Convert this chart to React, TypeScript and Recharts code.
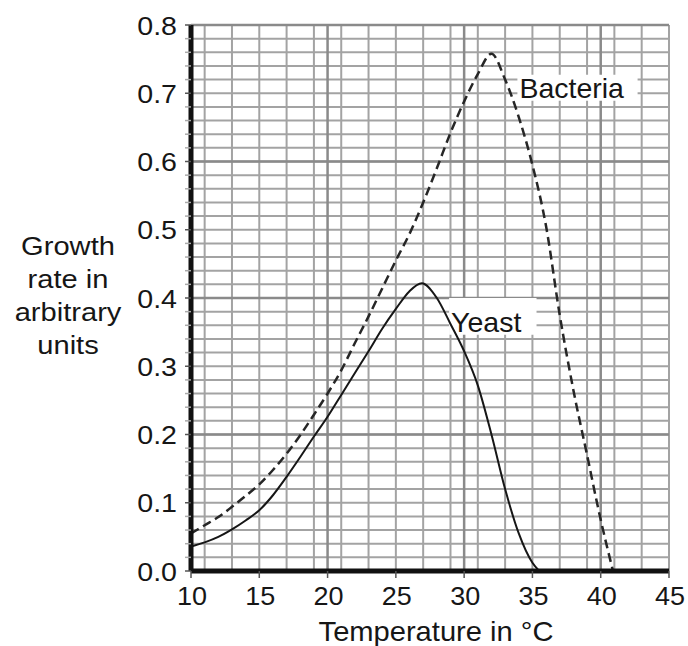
import { LineChart, Line, XAxis, YAxis, CartesianGrid, ReferenceArea, Label } from 'recharts'

// Yeast curve (solid)
const yeastTemps = [10, 11, 12, 13, 14, 15, 16, 17, 18, 19, 20, 21, 22, 23, 24, 25, 26, 26.9, 28, 29, 30, 31, 32, 33, 34, 35, 35.5]
const yeastRates = [0.036, 0.042, 0.05, 0.061, 0.074, 0.089, 0.111, 0.138, 0.167, 0.197, 0.226, 0.258, 0.29, 0.322, 0.355, 0.384, 0.41, 0.4215, 0.4, 0.362, 0.322, 0.272, 0.2, 0.12, 0.055, 0.012, 0]

// Bacteria curve (dashed)
const bacteriaTemps = [10, 11, 12, 13, 14, 15, 16, 17, 18, 19, 20, 21, 22, 23, 24, 25, 26, 27, 28, 29, 30, 31, 32, 33, 34, 35, 36, 37, 38, 39, 40, 40.9]
const bacteriaRates = [0.055, 0.067, 0.079, 0.094, 0.11, 0.127, 0.148, 0.172, 0.199, 0.229, 0.26, 0.294, 0.334, 0.373, 0.414, 0.455, 0.494, 0.54, 0.59, 0.642, 0.688, 0.728, 0.758, 0.72, 0.665, 0.595, 0.505, 0.375, 0.265, 0.17, 0.075, 0]

const xTicks = [10, 15, 20, 25, 30, 35, 40, 45]

// graph paper lines
const xMinor = Array.from({ length: 35 }, (_, i) => 11 + i)
const xMajor = [20, 30, 40]
const yMinor = Array.from({ length: 40 }, (_, i) => +((i + 1) * 0.02).toFixed(2))
const yMajor = [0.2, 0.4, 0.6, 0.8]
const yTickMarks = Array.from({ length: 41 }, (_, i) => +(i * 0.02).toFixed(2))

const yeastData = yeastTemps.map((t, i) => ({ t, v: yeastRates[i] }))
const bacteriaData = bacteriaTemps.map((t, i) => ({ t, v: bacteriaRates[i] }))

const FONT = '"Liberation Sans", Arial, sans-serif'
const INK = '#161616'

// the scan is a little stretched sideways, so text gets a small horizontal scale
function Stretched({ x, y, size, sx, anchor = 'start', children }: any) {
  return (
    <text
      transform={`translate(${x},${y}) scale(${sx},1)`}
      textAnchor={anchor}
      fontSize={size}
      fontFamily={FONT}
      fill={INK}
    >
      {children}
    </text>
  )
}

function YTick({ x, y, payload }: any) {
  const v = payload.value as number
  const major = Math.abs(v * 10 - Math.round(v * 10)) < 1e-6
  return (
    <g>
      <line x1={x - 6} x2={x} y1={y} y2={y} stroke={major ? '#555' : '#aaa'} strokeWidth={1.5} />
      {major && (
        <Stretched x={x - 14} y={y + 9.5} size={26} sx={1.1} anchor="end">
          {v.toFixed(1)}
        </Stretched>
      )}
    </g>
  )
}

function XTick({ x, y, payload }: any) {
  return (
    <g>
      <line x1={x} x2={x} y1={y} y2={y + 7} stroke="#555" strokeWidth={1.5} />
      <Stretched x={x + 1} y={y + 34} size={25} sx={1.08} anchor="middle">
        {payload.value}
      </Stretched>
    </g>
  )
}

function boxLabel(text: string) {
  return ({ viewBox }: any) => (
    <text x={viewBox.x + 2} y={viewBox.y + viewBox.height - 3} fontSize={28.5} fontFamily={FONT} fill={INK}>
      {text}
    </text>
  )
}

export default function App() {
  return (
    <div style={{ position: 'absolute', left: 0, top: 0, width: 688, height: 646, background: '#fff' }}>
      <LineChart width={688} height={646} margin={{ top: 25, right: 19, bottom: 0, left: 0 }}>
        <CartesianGrid verticalValues={xMinor} horizontalValues={yMinor} stroke="#a3a3a3" strokeWidth={2} />
        <CartesianGrid verticalValues={xMajor} horizontalValues={yMajor} stroke="#8a8a8a" strokeWidth={2.5} />
        <XAxis
          dataKey="t"
          type="number"
          domain={[10, 45]}
          ticks={xTicks}
          height={75}
          tickSize={0}
          tickMargin={0}
          tickLine={false}
          axisLine={{ stroke: '#111', strokeWidth: 5 }}
          tick={<XTick />}
          allowDataOverflow
        >
          <Label
            content={({ viewBox }: any) => (
              <Stretched x={436} y={viewBox.y + 70} size={28} sx={1.04} anchor="middle">
                Temperature in °C
              </Stretched>
            )}
          />
        </XAxis>
        <YAxis
          type="number"
          domain={[0, 0.8]}
          ticks={yTickMarks}
          width={191}
          tickSize={0}
          tickMargin={0}
          tickLine={false}
          axisLine={{ stroke: '#111', strokeWidth: 5 }}
          tick={<YTick />}
          interval={0}
          allowDataOverflow
        >
          <Label
            content={() => (
              <g>
                <Stretched x={68} y={255} size={26} sx={1.12} anchor="middle">Growth</Stretched>
                <Stretched x={68} y={288} size={26} sx={1.12} anchor="middle">rate in</Stretched>
                <Stretched x={68} y={321} size={26} sx={1.12} anchor="middle">arbitrary</Stretched>
                <Stretched x={68} y={354} size={26} sx={1.12} anchor="middle">units</Stretched>
              </g>
            )}
          />
        </YAxis>
        <ReferenceArea zIndex={50} x1={33.9} x2={42.7} y1={0.689} y2={0.727} fill="#fff" fillOpacity={1} stroke="none" label={boxLabel('Bacteria')} />
        <ReferenceArea zIndex={50} x1={28.9} x2={35.3} y1={0.346} y2={0.4} fill="#fff" fillOpacity={1} stroke="none" label={boxLabel('Yeast')} />
        <Line
          data={bacteriaData}
          dataKey="v"
          type="monotone"
          stroke="#262626"
          strokeWidth={2.5}
          strokeDasharray="9 5"
          dot={false}
          isAnimationActive={false}
        />
        <Line
          data={yeastData}
          dataKey="v"
          type="monotone"
          stroke="#161616"
          strokeWidth={2}
          dot={false}
          isAnimationActive={false}
        />
      </LineChart>
    </div>
  )
}
